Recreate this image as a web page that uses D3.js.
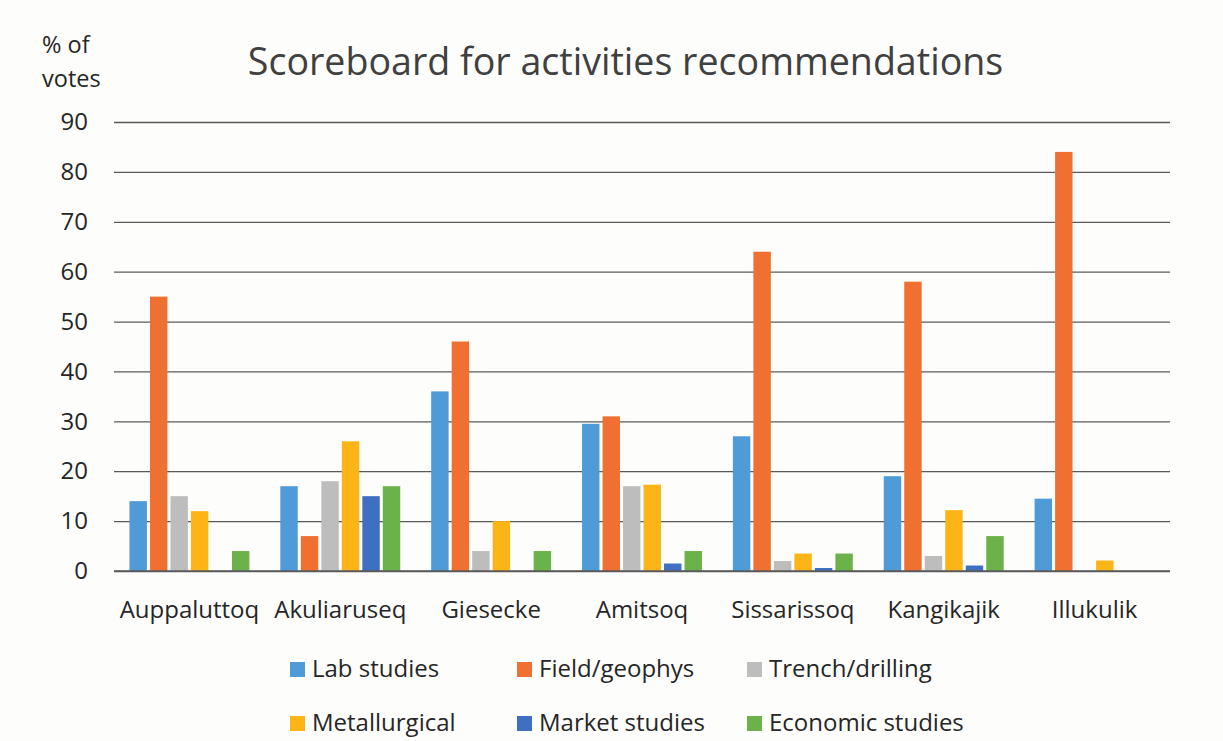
<!DOCTYPE html>
<html><head><meta charset="utf-8">
<script src="https://cdnjs.cloudflare.com/ajax/libs/d3/7.8.5/d3.min.js"></script>
<style>html,body{margin:0;padding:0;background:#fdfdfc;}svg{display:block;}</style>
</head><body>
<script>
const categories = ["Auppaluttoq","Akuliaruseq","Giesecke","Amitsoq","Sissarissoq","Kangikajik","Illukulik"];
const seriesNames = ["Lab studies","Field/geophys","Trench/drilling","Metallurgical","Market studies","Economic studies"];
const labStudies      = [14, 17, 36, 29.5, 27, 19, 14.5];
const fieldGeophys    = [55, 7, 46, 31, 64, 58, 84];
const trenchDrilling  = [15, 18, 4, 17, 2, 3, 0];
const metallurgical   = [12, 26, 10, 17.3, 3.5, 12.2, 2.1];
const marketStudies   = [0, 15, 0, 1.5, 0.6, 1.1, 0];
const economicStudies = [4, 17, 4, 4, 3.5, 7, 0];
const yTicks = [0,10,20,30,40,50,60,70,80,90];
const colors = ["#4f9bd7","#ef7030","#bdbdbd","#fcb416","#3f6fc3","#6cb24a"];

const allSeries = [labStudies, fieldGeophys, trenchDrilling, metallurgical, marketStudies, economicStudies];

const W = 1223, H = 741;
const svg = d3.select("body").append("svg").attr("width", W).attr("height", H);
const font = "'Open Sans', sans-serif";
const txt = "#262626";

const x0 = d3.scaleBand().domain(categories).range([114, 1170]).paddingInner(0.205).paddingOuter(0.1025);
const x1 = d3.scaleBand().domain(seriesNames).range([0, x0.bandwidth()]).paddingInner(0.15).paddingOuter(0);
const y = d3.scaleLinear().domain([0, 90]).range([571, 122]);

// gridlines + y ticks
const yAxis = d3.axisLeft(y).tickValues(yTicks).tickSize(-(1170-114)).tickPadding(26);
const gy = svg.append("g").attr("transform", "translate(114,0)").call(yAxis);
gy.select(".domain").remove();
gy.selectAll(".tick line").attr("stroke", "#5a5a5a").attr("stroke-width", 1.3);
gy.selectAll(".tick text").attr("font-family", font).attr("font-size", 24).attr("fill", txt);

// bars
const groups = svg.append("g").selectAll("g").data(categories).join("g")
  .attr("transform", d => `translate(${x0(d)},0)`);
groups.selectAll("rect").data((c, i) => seriesNames.map((s, j) => ({s, j, v: allSeries[j][i]})))
  .join("rect")
  .attr("x", d => x1(d.s)).attr("width", x1.bandwidth())
  .attr("y", d => y(d.v)).attr("height", d => y(0) - y(d.v))
  .attr("fill", d => colors[d.j]);

// baseline on top
svg.append("line").attr("x1",114).attr("x2",1170).attr("y1",y(0)).attr("y2",y(0)).attr("stroke","#5a5a5a").attr("stroke-width",1.3);

// category labels
const xAxis = d3.axisBottom(x0).tickSize(0).tickPadding(0);
const gx = svg.append("g").attr("transform", `translate(0,${y(0)})`).call(xAxis);
gx.select(".domain").remove();
gx.selectAll(".tick text").attr("dy", null).attr("y", 618 - 571)
  .attr("font-family", font).attr("font-size", 24).attr("fill", txt);

// title
svg.append("text").attr("x", 625.5).attr("y", 75).attr("text-anchor","middle")
  .attr("font-family", font).attr("font-size", 37.6).attr("fill","#404040")
  .text("Scoreboard for activities recommendations");

// y axis label
svg.append("text").attr("x", 42).attr("y", 53).attr("font-family", font).attr("font-size", 23.5).attr("fill",txt).text("% of");
svg.append("text").attr("x", 42).attr("y", 87).attr("font-family", font).attr("font-size", 23.5).attr("fill",txt).text("votes");

// legend
const legX = [290, 517, 747], legY = [677, 731];
const leg = svg.append("g").selectAll("g").data(seriesNames).join("g")
  .attr("transform", (d, i) => `translate(${legX[i % 3]},${legY[Math.floor(i / 3)]})`);
leg.append("rect").attr("x", 0).attr("y", -15).attr("width", 15).attr("height", 15).attr("fill", (d, i) => colors[i]);
leg.append("text").attr("x", 22).attr("y", 0)
  .attr("font-family", font).attr("font-size", 24).attr("fill",txt).text(d => d);
</script>
</body></html>
